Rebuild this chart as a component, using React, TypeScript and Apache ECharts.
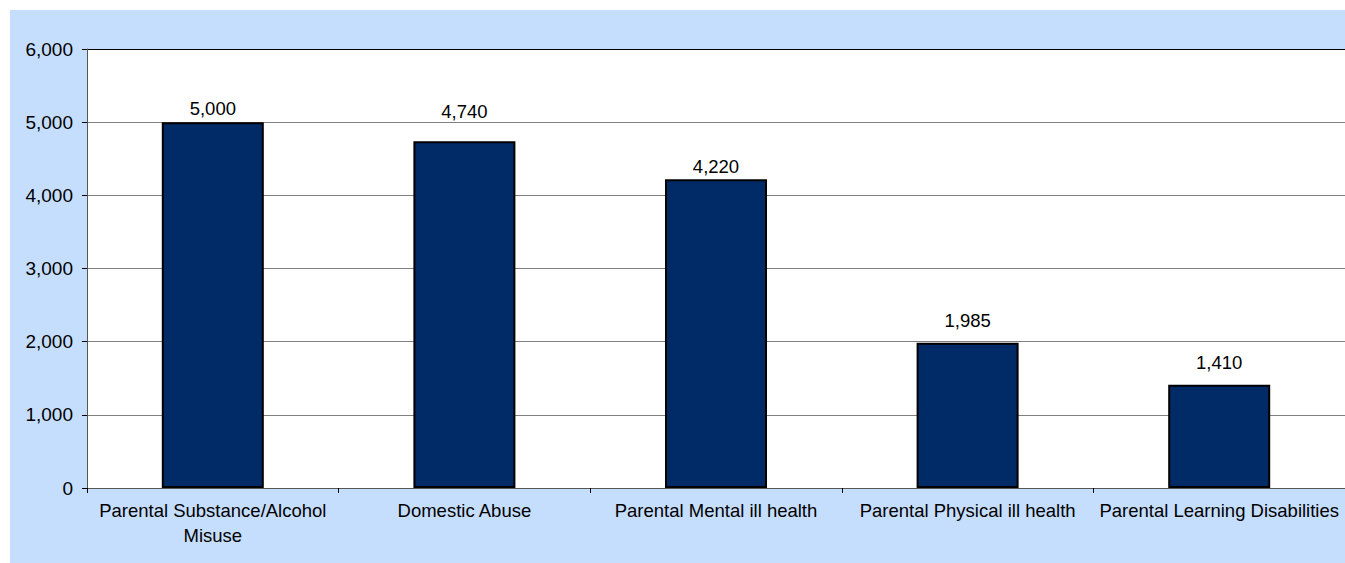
import React, { useEffect, useRef } from "react";
import * as echarts from "echarts";

const categories = [
  "Parental Substance/Alcohol\nMisuse",
  "Domestic Abuse",
  "Parental Mental ill health",
  "Parental Physical ill health",
  "Parental Learning Disabilities",
];
const values = [5000, 4740, 4220, 1985, 1410];
const yTicks = { min: 0, max: 6000, interval: 1000 };

// styling: label gap above each bar, as drawn in the reference
const labelDistances = [4, 20, 3, 13, 13];

const fmt = (v: number) => v.toLocaleString("en-US");

export default function App() {
  const ref = useRef<HTMLDivElement>(null);
  useEffect(() => {
    if (!ref.current) return;
    const chart = echarts.init(ref.current, null, { renderer: "svg" });
    chart.setOption({
      animation: false,
      backgroundColor: "#C6DEFE",
      textStyle: { fontFamily: "Liberation Sans, Arial, sans-serif" },
      grid: {
        left: 77,
        top: 39,
        right: 0,
        bottom: 75,
        show: true,
        backgroundColor: "#FFFFFF",
        borderWidth: 0,
      },
      xAxis: {
        type: "category",
        data: categories,
        boundaryGap: true,
        axisLine: { lineStyle: { color: "#555555", width: 1 } },
        axisTick: { show: true, length: 5, lineStyle: { color: "#000000" } },
        axisLabel: {
          color: "#000000",
          fontSize: 18.5,
          margin: 10,
          lineHeight: 25,
          interval: 0,
        },
      },
      yAxis: {
        type: "value",
        min: yTicks.min,
        max: yTicks.max,
        interval: yTicks.interval,
        axisLine: { show: true, lineStyle: { color: "#555555", width: 1 } },
        axisTick: { show: true, length: 5, lineStyle: { color: "#000000" } },
        axisLabel: {
          color: "#000000",
          fontSize: 19,
          margin: 14,
          formatter: (v: number) => fmt(v),
        },
        splitLine: {
          show: true,
          lineStyle: {
            color: ["#808080", "#808080", "#808080", "#808080", "#808080", "#808080", "#000000"],
            width: 1,
          },
        },
      },
      series: [
        {
          type: "bar",
          data: values.map((v, i) => ({
            value: v,
            label: { distance: labelDistances[i] },
          })),
          barWidth: 102,
          itemStyle: { color: "#002B66", borderColor: "#000000", borderWidth: 2 },
          label: {
            show: true,
            position: "top",
            color: "#000000",
            fontSize: 18.5,
            formatter: (p: any) => fmt(p.value),
          },
        },
      ],
    });
    return () => chart.dispose();
  }, []);
  return (
    <div
      ref={ref}
      style={{ position: "absolute", left: 10, top: 10, width: 1335, height: 553 }}
    />
  );
}
